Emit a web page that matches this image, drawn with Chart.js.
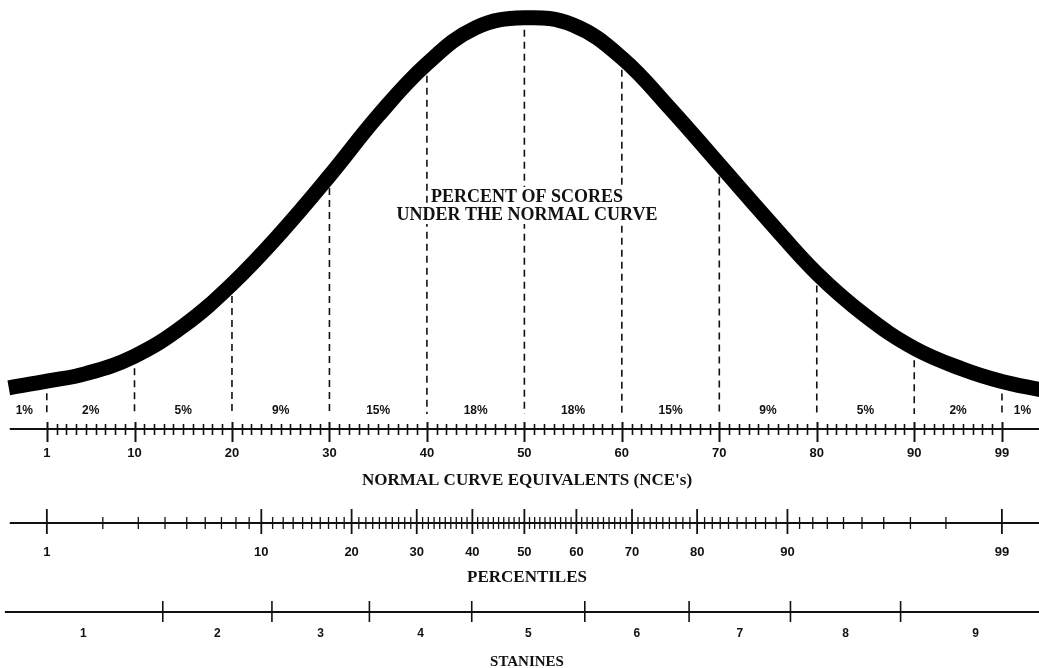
<!DOCTYPE html>
<html>
<head>
<meta charset="utf-8">
<script src="https://cdn.jsdelivr.net/npm/chart.js@4/dist/chart.umd.min.js"></script>
<style>
  html, body { margin: 0; padding: 0; background: #fff; }
  #wrap { width: 1039px; height: 668px; position: relative; }
</style>
</head>
<body>
<div id="wrap"><canvas id="chart"></canvas></div>
<script>
// curve (x = NCE, height = % of peak)
const nceCurve = [-2.9, 1, 5, 10, 15, 20, 25, 30, 35, 40, 45, 50, 55, 60, 65, 70, 75, 80, 85, 90, 95, 99, 103];
const curveHeight = [6.6, 8.3, 10.2, 14.6, 22.2, 32.8, 45.7, 60.1, 75.3, 88.4, 97.5, 100, 98.2, 89.9, 77.0, 63.0, 49.0, 35.5, 24.8, 16.6, 11.3, 8.2, 6.1];

// dashed dividers and the percent of scores between them
const dividers = [1, 10, 20, 30, 40, 50, 60, 70, 80, 90, 99];
const percentLabels = ['1%', '2%', '5%', '9%', '15%', '18%', '18%', '15%', '9%', '5%', '2%', '1%'];

// scales
const nceLabels = [1, 10, 20, 30, 40, 50, 60, 70, 80, 90, 99];
const pctLabels = [1, 10, 20, 30, 40, 50, 60, 70, 80, 90, 99];
const stanineEdges = [-3.4, 12.9, 24.1, 34.1, 44.6, 56.2, 66.9, 77.3, 88.6, 104];
const stanineLabels = ['1', '2', '3', '4', '5', '6', '7', '8', '9'];

const NCE_SD = 21.06;

// inverse normal (Acklam) -> turns a percentile into its NCE position
function probit(p) {
  const a = [-39.69683028665376, 220.9460984245205, -275.9285104469687, 138.3577518672690, -30.66479806614716, 2.506628277459239];
  const b = [-54.47609879822406, 161.5858368580409, -155.6989798598866, 66.80131188771972, -13.28068155288572];
  const c = [-0.007784894002430293, -0.3223964580411365, -2.400758277161838, -2.549732539343734, 4.374664141464968, 2.938163982698783];
  const d = [0.007784695709041462, 0.3224671290700398, 2.445134137142996, 3.754408661907416];
  const pl = 0.02425;
  let q, r;
  if (p < pl) {
    q = Math.sqrt(-2 * Math.log(p));
    return (((((c[0]*q+c[1])*q+c[2])*q+c[3])*q+c[4])*q+c[5]) / ((((d[0]*q+d[1])*q+d[2])*q+d[3])*q+1);
  }
  if (p > 1 - pl) {
    q = Math.sqrt(-2 * Math.log(1 - p));
    return -(((((c[0]*q+c[1])*q+c[2])*q+c[3])*q+c[4])*q+c[5]) / ((((d[0]*q+d[1])*q+d[2])*q+d[3])*q+1);
  }
  q = p - 0.5; r = q * q;
  return (((((a[0]*r+a[1])*r+a[2])*r+a[3])*r+a[4])*r+a[5])*q / (((((b[0]*r+b[1])*r+b[2])*r+b[3])*r+b[4])*r+1);
}
const pctToNce = p => 50 + NCE_SD * probit(p / 100);

function heightAt(n) {
  return curveHeight[nceCurve.indexOf(n)];
}

const curveData = nceCurve.map((n, i) => ({ x: n, y: curveHeight[i] }));

const dashSets = dividers.map(n => ({
  data: [{ x: n, y: heightAt(n) }, { x: n, y: 0 }],
  borderColor: '#111',
  borderWidth: 1.6,
  borderDash: [7, 5],
  pointRadius: 0,
  tension: 0
}));

const SANS = '"Liberation Sans", Arial, sans-serif';
const SERIF = '"Liberation Serif", "Times New Roman", serif';

// text with a white patch behind it, so the dashed lines break around it
function knockoutText(ctx, text, cx, baseline) {
  const w = ctx.measureText(text).width;
  ctx.save();
  ctx.fillStyle = '#fff';
  ctx.fillRect(cx - w / 2 - 2, baseline - 15, w + 4, 19);
  ctx.restore();
  ctx.fillText(text, cx, baseline);
}

const scalesPlugin = {
  id: 'scoreScales',
  afterDraw(chart) {
    const ctx = chart.ctx;
    const x = chart.scales.x;
    const y = chart.scales.y;
    const base = y.getPixelForValue(0);
    ctx.save();
    ctx.fillStyle = '#111';
    ctx.strokeStyle = '#111';
    ctx.textAlign = 'center';
    ctx.textBaseline = 'middle';

    // percent of scores between dividers
    ctx.font = 'bold 12px ' + SANS;
    const bounds = [-3.6].concat(dividers, [103.2]);
    percentLabels.forEach((t, i) => {
      ctx.fillText(t, x.getPixelForValue((bounds[i] + bounds[i + 1]) / 2), base - 3);
    });

    // NCE axis
    const yN = 429;
    ctx.lineWidth = 2;
    ctx.beginPath();
    ctx.moveTo(x.getPixelForValue(-2.8), yN);
    ctx.lineTo(x.getPixelForValue(102.8), yN);
    ctx.stroke();
    for (let n = 1; n <= 99; n++) {
      const px = Math.round(x.getPixelForValue(n)) + 0.5;
      const major = nceLabels.includes(n);
      ctx.lineWidth = major ? 2 : 1.6;
      ctx.beginPath();
      ctx.moveTo(px, major ? yN - 7 : yN - 5);
      ctx.lineTo(px, major ? yN + 13 : yN + 6);
      ctx.stroke();
    }
    ctx.font = 'bold 13px ' + SANS;
    nceLabels.forEach(n => ctx.fillText(String(n), x.getPixelForValue(n), 453));

    // percentile axis
    const yP = 523;
    ctx.lineWidth = 2;
    ctx.beginPath();
    ctx.moveTo(x.getPixelForValue(-2.8), yP);
    ctx.lineTo(x.getPixelForValue(102.8), yP);
    ctx.stroke();
    for (let p = 1; p <= 99; p++) {
      const px = x.getPixelForValue(pctToNce(p));
      const major = pctLabels.includes(p);
      ctx.lineWidth = major ? 1.8 : 1.3;
      ctx.beginPath();
      ctx.moveTo(px, major ? yP - 14 : yP - 6);
      ctx.lineTo(px, major ? yP + 11 : yP + 6);
      ctx.stroke();
    }
    ctx.font = 'bold 13px ' + SANS;
    pctLabels.forEach(p => ctx.fillText(String(p), x.getPixelForValue(pctToNce(p)), 552));

    // stanine axis
    const yS = 612;
    ctx.lineWidth = 2.2;
    ctx.beginPath();
    ctx.moveTo(x.getPixelForValue(-3.3), yS);
    ctx.lineTo(x.getPixelForValue(102.8), yS);
    ctx.stroke();
    ctx.lineWidth = 1.6;
    stanineEdges.slice(1, -1).forEach(n => {
      const px = x.getPixelForValue(n);
      ctx.beginPath();
      ctx.moveTo(px, yS - 11);
      ctx.lineTo(px, yS + 10);
      ctx.stroke();
    });
    ctx.font = 'bold 12px ' + SANS;
    stanineLabels.forEach((t, i) => {
      ctx.fillText(t, x.getPixelForValue((stanineEdges[i] + stanineEdges[i + 1]) / 2), 634);
    });

    // titles (serif, caps)
    ctx.textBaseline = 'alphabetic';
    ctx.font = 'bold 18px ' + SERIF;
    knockoutText(ctx, 'PERCENT OF SCORES', 527, 202);
    knockoutText(ctx, 'UNDER THE NORMAL CURVE', 527, 220);
    ctx.font = 'bold 17px ' + SERIF;
    ctx.fillText("NORMAL CURVE EQUIVALENTS (NCE's)", 527, 485);
    ctx.fillText('PERCENTILES', 527, 582);
    ctx.font = 'bold 15px ' + SERIF;
    ctx.fillText('STANINES', 527, 666);

    ctx.restore();
  }
};

new Chart(document.getElementById('chart'), {
  type: 'line',
  data: {
    datasets: [{
      data: curveData,
      borderColor: '#000',
      borderWidth: 15,
      pointRadius: 0,
      tension: 0.4,
      borderCapStyle: 'butt'
    }].concat(dashSets)
  },
  options: {
    responsive: true,
    maintainAspectRatio: false,
    animation: false,
    layout: { padding: 0 },
    plugins: { legend: { display: false }, tooltip: { enabled: false } },
    scales: {
      x: { type: 'linear', min: -3.8, max: 102.8, display: false },
      y: { type: 'linear', min: -64.1, max: 104.5, display: false }
    }
  },
  plugins: [scalesPlugin]
});
</script>
</body>
</html>
